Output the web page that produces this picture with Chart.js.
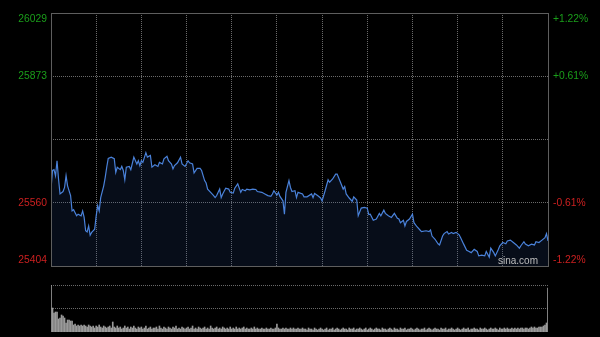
<!DOCTYPE html>
<html>
<head>
<meta charset="utf-8">
<title>恒生指数 分时</title>
<script src="https://cdn.jsdelivr.net/npm/chart.js@4.4.0/dist/chart.umd.min.js"></script>
<style>
  html, body { margin: 0; padding: 0; background: #000; }
  #wrap { position: relative; width: 600px; height: 337px; overflow: hidden; background: #000; }
  #priceCanvas { position: absolute; left: 0; top: 0; }
  #volCanvas { position: absolute; left: 0; top: 270px; }
  #logo { position: absolute; left: 498px; top: 255px; font: 10px "Liberation Sans", Arial, sans-serif; color: #bdbdbd; }
</style>
</head>
<body>
<div id="wrap">
  <canvas id="priceCanvas" width="600" height="270"></canvas>
  <canvas id="volCanvas" width="600" height="67"></canvas>
  <div id="logo">sina.com</div>
</div>
<script>
// minutes since 9:30 open (330 = close)
const minutes = [
  0, 1, 2, 3, 4, 5, 6, 8, 9, 10,
  11, 13, 14, 15, 17, 18, 20, 21, 22, 23,
  24, 25, 26, 27, 29, 30, 31, 32, 33, 35,
  36, 37, 38, 40, 42, 43, 44, 46, 47, 48,
  49, 50, 52, 53, 55, 57, 58, 59, 60, 61,
  63, 64, 66, 67, 69, 71, 72, 74, 75, 77,
  78, 80, 81, 82, 84, 86, 87, 89, 91, 92,
  94, 95, 97, 99, 100, 102, 103, 104, 106, 108,
  109, 110, 112, 113, 114, 116, 118, 119, 121, 122,
  124, 126, 127, 129, 130, 132, 134, 136, 137, 140,
  142, 144, 146, 147, 148, 150, 151, 152, 154, 155,
  156, 158, 159, 160, 162, 163, 164, 167, 168, 170,
  173, 174, 175, 177, 179, 180, 182, 184, 185, 187,
  189, 190, 192, 194, 195, 196, 198, 200, 201, 203,
  204, 206, 208, 210, 211, 212, 214, 216, 218, 219,
  221, 222, 224, 226, 228, 230, 231, 232, 234, 235,
  236, 238, 240, 241, 243, 245, 246, 249, 251, 252,
  253, 255, 257, 258, 260, 261, 263, 264, 266, 267,
  269, 271, 272, 274, 276, 277, 279, 281, 283, 284,
  286, 288, 289, 291, 292, 294, 295, 297, 298, 300,
  302, 303, 305, 307, 309, 311, 312, 314, 315, 317,
  319, 321, 322, 324, 326, 328, 329, 330
];
const prices = [
  25594, 25640, 25642, 25627, 25664, 25619, 25582, 25588, 25598, 25627,
  25602, 25578, 25540, 25543, 25528, 25532, 25528, 25540, 25524, 25491,
  25488, 25503, 25480, 25487, 25495, 25528, 25553, 25540, 25573, 25602,
  25623, 25648, 25670, 25673, 25669, 25635, 25648, 25642, 25650, 25640,
  25617, 25648, 25650, 25642, 25673, 25656, 25664, 25652, 25664, 25660,
  25684, 25673, 25677, 25648, 25654, 25650, 25660, 25656, 25669, 25675,
  25664, 25656, 25644, 25652, 25659, 25673, 25656, 25650, 25664, 25659,
  25656, 25634, 25645, 25645, 25640, 25615, 25609, 25594, 25586, 25578,
  25573, 25578, 25594, 25573, 25582, 25596, 25594, 25586, 25584, 25596,
  25607, 25586, 25593, 25590, 25594, 25592, 25594, 25593, 25588, 25586,
  25582, 25578, 25576, 25582, 25590, 25579, 25586, 25576, 25565, 25532,
  25586, 25615, 25598, 25588, 25590, 25573, 25586, 25582, 25575, 25575,
  25582, 25573, 25583, 25578, 25572, 25565, 25590, 25617, 25611, 25619,
  25631, 25631, 25613, 25594, 25600, 25582, 25572, 25564, 25575, 25567,
  25528, 25547, 25549, 25547, 25531, 25532, 25517, 25520, 25534, 25528,
  25542, 25534, 25528, 25524, 25534, 25522, 25520, 25511, 25517, 25503,
  25514, 25520, 25532, 25511, 25501, 25493, 25489, 25491, 25489, 25493,
  25478, 25470, 25459, 25456, 25478, 25484, 25489, 25483, 25487, 25484,
  25487, 25481, 25474, 25458, 25443, 25441, 25437, 25445, 25440, 25429,
  25431, 25429, 25440, 25426, 25448, 25437, 25429, 25445, 25454, 25462,
  25459, 25466, 25468, 25462, 25456, 25448, 25454, 25464, 25458, 25454,
  25458, 25456, 25464, 25462, 25468, 25474, 25484, 25466
];

// one bar per minute, 0..330
const volumes = [
  47, 24, 19, 20, 20, 13, 14, 17, 16, 14,
  9, 12, 12, 11, 11, 7, 8, 6, 7, 6,
  7, 6, 7, 6, 5, 7, 6, 5, 6, 4,
  6, 5, 7, 5, 4, 6, 5, 4, 5, 6,
  4, 10, 5, 4, 6, 4, 5, 3, 4, 6,
  4, 5, 3, 5, 4, 6, 4, 3, 5, 4,
  5, 3, 4, 6, 3, 4, 5, 3, 4, 4,
  5, 3, 6, 4, 3, 5, 4, 3, 5, 4,
  3, 5, 4, 6, 3, 4, 3, 5, 4, 3,
  4, 5, 3, 4, 6, 3, 4, 3, 5, 4,
  3, 4, 5, 3, 4, 3, 6, 4, 3, 4,
  5, 3, 4, 3, 5, 4, 3, 4, 3, 5,
  3, 4, 3, 5, 3, 4, 3, 4, 5, 3,
  4, 3, 3, 4, 3, 5, 3, 4, 3, 3,
  4, 3, 3, 4, 3, 3, 4, 3, 3, 4,
  8, 4, 3, 3, 4, 3, 4, 3, 3, 4,
  3, 4, 3, 3, 4, 3, 3, 4, 3, 3,
  2, 4, 3, 3, 2, 4, 3, 2, 3, 4,
  3, 2, 3, 4, 2, 3, 3, 4, 2, 3,
  4, 3, 2, 3, 4, 3, 3, 2, 4, 3,
  3, 4, 2, 3, 3, 4, 3, 2, 3, 4,
  2, 3, 4, 3, 2, 3, 4, 3, 3, 2,
  4, 3, 3, 2, 3, 4, 3, 2, 4, 3,
  3, 2, 4, 3, 3, 4, 2, 3, 3, 4,
  3, 2, 3, 4, 3, 2, 3, 3, 4, 2,
  3, 4, 3, 2, 3, 4, 3, 3, 2, 4,
  3, 3, 4, 2, 3, 3, 4, 3, 2, 3,
  4, 3, 2, 3, 4, 3, 3, 4, 2, 3,
  3, 4, 3, 3, 2, 4, 3, 3, 4, 3,
  2, 3, 4, 3, 3, 4, 3, 2, 4, 3,
  3, 4, 3, 4, 3, 3, 4, 3, 4, 3,
  4, 3, 4, 4, 3, 4, 4, 3, 4, 5,
  4, 5, 4, 4, 5, 5, 5, 6, 7, 9,
  44
];

const leftTicks = [25404, 25560, 25716.5, 25873, 26029];
const leftLabels = ['25404', '25560', '', '25873', '26029'];
const rightLabels = ['-1.22%', '-0.61%', '', '+0.61%', '+1.22%'];
const timeGrid = [0, 30, 60, 90, 120, 150, 180, 210, 240, 270, 300, 330];
const volTicks = [23.5, 47];

const GREEN = '#1a9e1a';
const RED = '#cc2020';
const FONT = { family: '"Liberation Sans", Arial, sans-serif', size: 10.3, lineHeight: 1.15 };

function tickColor(i) {
  return i < 2 ? RED : GREEN;
}

// top and bottom labels are nudged inside the frame
function edgeLabel(text, i, last) {
  if (i === 0) return [text, ''];
  if (i === last) return ['', text];
  return text;
}

// keep label overflow from moving the plot area
function fixScale(s, size) {
  if (s.isHorizontal()) s.height = size; else s.width = size;
  s.paddingTop = 0;
  s.paddingBottom = 0;
  s.paddingLeft = 0;
  s.paddingRight = 0;
}

const framePlugin = {
  id: 'frame',
  afterDraw(chart) {
    const { ctx, chartArea: a } = chart;
    ctx.save();
    ctx.strokeStyle = '#5e5e5e';
    ctx.lineWidth = 1;
    ctx.strokeRect(a.left + 0.5, a.top + 0.5, a.right - a.left, a.bottom - a.top);
    ctx.restore();
  }
};

new Chart(document.getElementById('priceCanvas'), {
  type: 'line',
  data: {
    datasets: [{
      data: minutes.map((m, i) => ({ x: m, y: prices[i] })),
      borderColor: '#4a82da',
      borderWidth: 1.2,
      pointRadius: 0,
      tension: 0,
      fill: 'start',
      backgroundColor: 'rgba(50, 90, 170, 0.15)'
    }]
  },
  options: {
    responsive: false,
    animation: false,
    layout: { padding: { top: 13, bottom: 4, left: 0, right: 0 } },
    plugins: { legend: { display: false }, tooltip: { enabled: false } },
    scales: {
      x: {
        type: 'linear',
        min: 0,
        max: 330,
        afterBuildTicks: s => { s.ticks = timeGrid.map(v => ({ value: v })); },
        afterFit: s => fixScale(s, 0),
        ticks: { display: false },
        grid: { color: '#6a6a6a', drawTicks: false },
        border: { display: false, dash: [1, 1] }
      },
      y: {
        position: 'left',
        min: 25404,
        max: 26029,
        afterBuildTicks: s => { s.ticks = leftTicks.map(v => ({ value: v })); },
        afterFit: s => fixScale(s, 51),
        ticks: {
          padding: 4,
          font: FONT,
          color: ctx => tickColor(ctx.index),
          callback: (v, i) => edgeLabel(leftLabels[i], i, leftLabels.length - 1)
        },
        grid: { color: '#6a6a6a', drawTicks: false },
        border: { display: false, dash: [1, 1] }
      },
      y2: {
        position: 'right',
        min: 25404,
        max: 26029,
        afterBuildTicks: s => { s.ticks = leftTicks.map(v => ({ value: v })); },
        afterFit: s => fixScale(s, 52),
        ticks: {
          padding: 5,
          font: FONT,
          color: ctx => tickColor(ctx.index),
          callback: (v, i) => edgeLabel(rightLabels[i], i, rightLabels.length - 1)
        },
        grid: { display: false, drawTicks: false },
        border: { display: false }
      }
    }
  },
  plugins: [framePlugin]
});

new Chart(document.getElementById('volCanvas'), {
  type: 'bar',
  data: {
    datasets: [{
      data: volumes.map((v, i) => ({ x: i, y: v })),
      backgroundColor: '#9a9a9a',
      barThickness: 1
    }]
  },
  options: {
    responsive: false,
    animation: false,
    layout: { padding: { top: 15, bottom: 5, left: 51, right: 52 } },
    plugins: { legend: { display: false }, tooltip: { enabled: false } },
    scales: {
      x: {
        type: 'linear',
        min: 0,
        max: 330,
        offset: false,
        display: false
      },
      y: {
        min: 0,
        max: 47,
        afterBuildTicks: s => { s.ticks = volTicks.map(v => ({ value: v })); },
        afterFit: s => fixScale(s, 0),
        ticks: { display: false },
        grid: { color: '#6a6a6a', drawTicks: false },
        border: { display: false, dash: [1, 1] }
      }
    }
  }
});
</script>
</body>
</html>
